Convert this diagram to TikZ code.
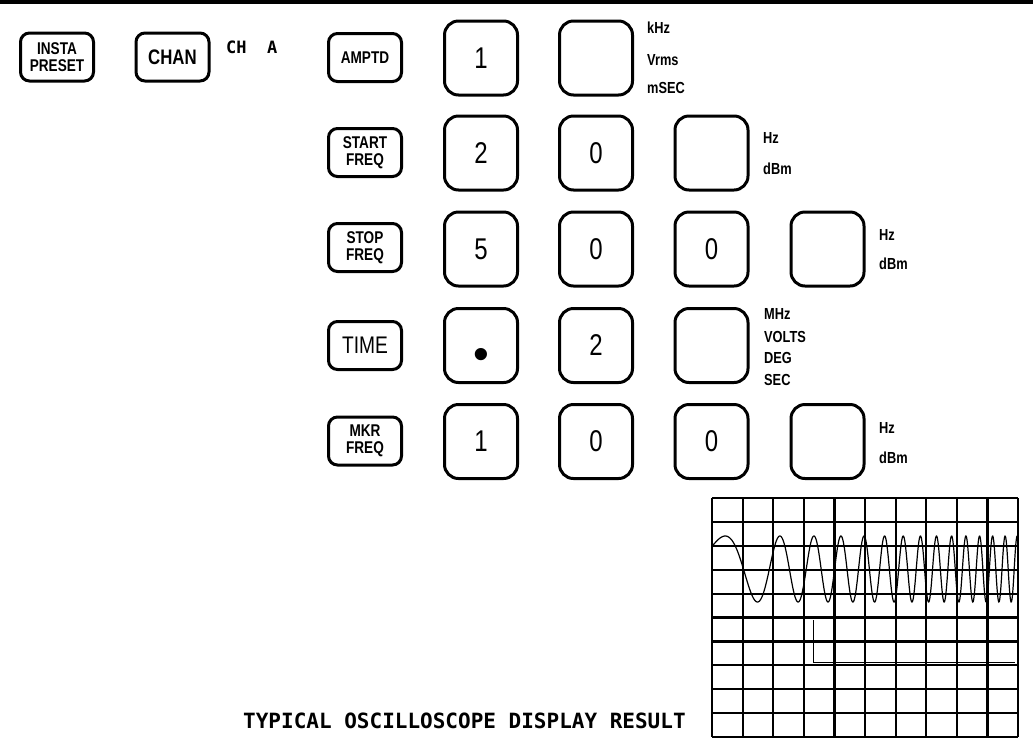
\documentclass[tikz,border=0pt]{standalone}
\usepackage{fontspec}
\setmainfont{Liberation Sans}
\newfontfamily\keyfont[FakeStretch=0.8]{Liberation Sans}
\newfontfamily\scopefont{DejaVu Sans Mono}

\begin{document}
\begin{tikzpicture}[
  x=1pt,y=-1pt,
  key/.style={draw,line width=3pt,inner sep=0pt,minimum width=73pt},
  fkey/.style={key,rounded corners=9pt,minimum height=48pt,align=center,
               font=\keyfont\bfseries\fontsize{17}{17}\selectfont},
  dkey/.style={key,rounded corners=14pt,minimum height=74pt,
               font=\keyfont\fontsize{30}{30}\selectfont,text height=20pt,text depth=0pt},
  unit/.style={anchor=base west,inner sep=0pt,font=\keyfont\bfseries\fontsize{16}{16}\selectfont},
  caption/.style={anchor=base west,inner sep=0pt,font=\scopefont\bfseries\fontsize{21}{21}\selectfont},
  gridline/.style={line width=2.2pt},
  trace/.style={line width=1.2pt},
  marker/.style={line width=0.9pt}
]
\useasboundingbox (0,0) rectangle (1033,740);
\draw[line width=4pt] (0,2) -- (1033,2);

% Top-left keys and the channel read-out.
\node[fkey] (preset) at (57,57) {INSTA\\PRESET};
\node[fkey,font=\keyfont\bfseries\fontsize{21}{21}\selectfont] (chan) at (172.5,57) {CHAN};
\node[anchor=base west,inner sep=0pt,font=\scopefont\bfseries\fontsize{17}{17}\selectfont]
  (cha) at (226,53) {CH~~A};

% Key sequence, one row per function key.
\node[fkey] (amptd) at (365,57.5) {AMPTD};
\node[dkey] (a1) at (481,58) {1};
\node[dkey] (a2) at (596,58) {};
\node[unit] (khz)  at (647,33) {kHz};
\node[unit] (vrms) at (647,65) {Vrms};
\node[unit] (msec) at (647,93) {mSEC};

\node[fkey] (start) at (365,152.5) {START\\FREQ};
\node[dkey] (b1) at (481,153) {2};
\node[dkey] (b2) at (596,153) {0};
\node[dkey] (b3) at (711.5,153) {};
\node[unit] (bhz)  at (763,143) {Hz};
\node[unit] (bdbm) at (763,174) {dBm};

\node[fkey] (stop) at (365,247.5) {STOP\\FREQ};
\node[dkey] (c1) at (481,249) {5};
\node[dkey] (c2) at (596,249) {0};
\node[dkey] (c3) at (711.5,249) {0};
\node[dkey] (c4) at (827.5,249) {};
\node[unit] (chz)  at (879,240) {Hz};
\node[unit] (cdbm) at (879,269) {dBm};

\node[fkey,font=\keyfont\fontsize{24}{24}\selectfont] (time) at (365,345.5) {TIME};
\node[dkey] (d1) at (481,345.5) {\rmfamily\fontsize{45}{45}\selectfont\raisebox{-14pt}{•}};
\node[dkey] (d2) at (596,345.5) {2};
\node[dkey] (d3) at (711.5,345.5) {};
\node[unit] (mhz)   at (764,319) {MHz};
\node[unit] (volts) at (764,342) {VOLTS};
\node[unit] (deg)   at (764,363) {DEG};
\node[unit] (sec)   at (764,385) {SEC};

\node[fkey] (mkr) at (365,441) {MKR\\FREQ};
\node[dkey] (e1) at (481,441.5) {1};
\node[dkey] (e2) at (596,441.5) {0};
\node[dkey] (e3) at (711.5,441.5) {0};
\node[dkey] (e4) at (827.5,441.5) {};
\node[unit] (ehz)  at (879,433) {Hz};
\node[unit] (edbm) at (879,463) {dBm};

\node[caption] (result) at (243,728) {TYPICAL OSCILLOSCOPE DISPLAY RESULT};

% Oscilloscope screen: 10 x 10 divisions with the swept trace.
\begin{scope}[shift={(712,498)}]
\foreach \i in {0,...,10} {
  \draw[gridline] (\i*30.6,0) -- (\i*30.6,239);
  \draw[gridline] (0,\i*23.9) -- (306,\i*23.9);
}
\draw[trace] plot[domain=0:306,samples=800,smooth]
  (\x,{71-33*sin(360*(0.12+2.5*\x/306+11.7*(\x/306)^2))});
\draw[marker] (101,122) -- (101,164) -- (303,164);
\end{scope}
\end{tikzpicture}
\end{document}
